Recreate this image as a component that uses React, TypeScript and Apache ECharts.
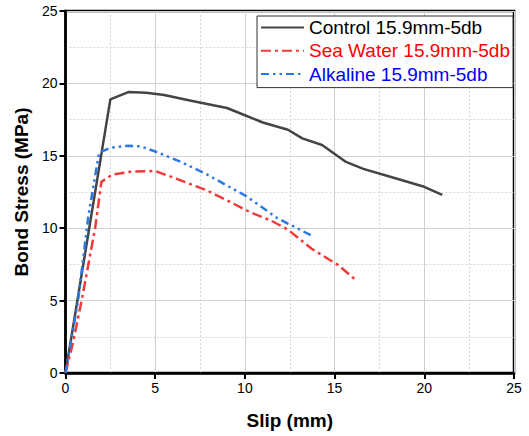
import React, { useEffect, useRef } from "react";
import * as echarts from "echarts";

const controlSlip = [0, 2.5, 3.5, 4.5, 5.5, 7, 9, 10, 11, 12.4, 13.2, 14.3, 15.6, 16.6, 18.1, 19.9, 21.0];
const controlStress = [0, 18.9, 19.4, 19.35, 19.2, 18.8, 18.3, 17.8, 17.3, 16.8, 16.2, 15.75, 14.6, 14.1, 13.55, 12.9, 12.3];

const seaSlip = [0, 0.4, 0.9, 1.65, 2.0, 2.6, 3.6, 5.0, 6.0, 7.9, 9.2, 10.3, 11.5, 12.4, 13.7, 15.2, 16.2];
const seaStress = [0, 2, 5, 10, 13.2, 13.7, 13.9, 13.95, 13.5, 12.6, 11.8, 11.1, 10.5, 9.9, 8.6, 7.45, 6.4];

const alkSlip = [0, 0.7, 1.27, 1.87, 2.5, 3.5, 4.2, 5.0, 6.4, 7.9, 10.1, 11.8, 13.7];
const alkStress = [0, 5, 10.8, 15.2, 15.55, 15.7, 15.65, 15.3, 14.6, 13.7, 12.2, 10.7, 9.5];

const seriesNames = ["Control 15.9mm-5db", "Sea Water 15.9mm-5db", "Alkaline 15.9mm-5db"];
const lineColors = ["#444444", "#f23a3a", "#2a78e4"];
const textColors = ["#000000", "#ff0000", "#0000ff"];

const zip = (xs: number[], ys: number[]) => xs.map((x, i) => [x, ys[i]]);

export default function App() {
  const ref = useRef<HTMLDivElement>(null);
  useEffect(() => {
    if (!ref.current) return;
    const chart = echarts.init(ref.current, null, { renderer: "svg" });
    const font = "Liberation Sans, Arial, sans-serif";
    const axisCommon = {
      min: 0,
      max: 25,
      interval: 5,
      axisLine: { show: true, onZero: false, lineStyle: { color: "#000", width: 2.5 } },
      axisTick: { show: true, inside: false, length: 6, lineStyle: { color: "#000", width: 2 } },
      axisLabel: { color: "#000", fontSize: 14, fontFamily: font },
      splitLine: { show: true, lineStyle: { color: "#cfcfcf", width: 1 } },
      minorTick: { show: false, splitNumber: 2 },
      minorSplitLine: { show: true, lineStyle: { color: "#d6d6d6", width: 1, type: [2, 2] } },
      nameTextStyle: { color: "#000", fontSize: 19, fontWeight: "bold", fontFamily: font },
    };
    const dashes: any[] = ["solid", [10, 4, 3, 4], [8, 4, 2.5, 4, 2.5, 4]];
    const datas = [zip(controlSlip, controlStress), zip(seaSlip, seaStress), zip(alkSlip, alkStress)];
    chart.setOption({
      animation: false,
      backgroundColor: "#fff",
      grid: {
        left: 65.5,
        right: 15,
        top: 11,
        bottom: 63,
        show: true,
        borderColor: "#000",
        borderWidth: 2.5,
        backgroundColor: "transparent",
      },
      legend: {
        show: true,
        top: 16,
        left: 257,
        orient: "vertical",
        itemWidth: 43,
        itemHeight: 14,
        itemGap: 4.3,
        padding: [2, 3, 4, 3],
        borderColor: "#333",
        borderWidth: 1,
        borderRadius: 0,
        backgroundColor: "#fff",
        itemStyle: { opacity: 0 },
        textStyle: { fontSize: 19, lineHeight: 19, fontFamily: font },
        data: seriesNames.map((n, i) => ({ name: n, textStyle: { color: textColors[i] } })),
      },
      xAxis: {
        type: "value",
        ...axisCommon,
        name: "Slip (mm)",
        nameLocation: "middle",
        nameGap: 37.5,
      },
      yAxis: {
        type: "value",
        ...axisCommon,
        name: "Bond Stress (MPa)",
        nameLocation: "middle",
        nameGap: 33.5,
      },
      series: datas.map((d, i) => ({
        name: seriesNames[i],
        type: "line",
        data: d,
        showSymbol: false,
        symbol: "none",
        lineStyle: { color: lineColors[i], width: 2.5, type: dashes[i] },
        itemStyle: { color: lineColors[i] },
      })),
    });
    return () => chart.dispose();
  }, []);
  return <div ref={ref} style={{ width: 529, height: 436, position: "absolute", left: 0, top: 0 }} />;
}
